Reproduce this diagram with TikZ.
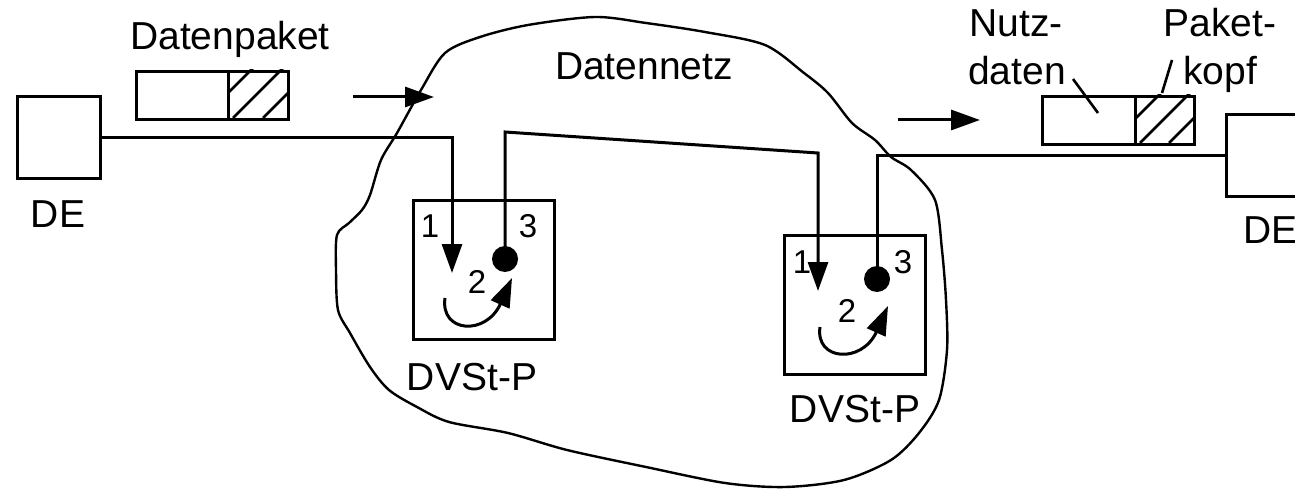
\documentclass[tikz,border=0pt]{standalone}
\usepackage{fontspec}
\setmainfont{Liberation Sans}
\usetikzlibrary{arrows.meta}
\begin{document}
\begin{tikzpicture}[x=1pt,y=-1pt,
  ln/.style={line width=3pt},
  arr/.style={ln,-{Triangle[length=29pt,width=20pt]}},
  box/.style={draw,line width=3pt,inner sep=0pt,anchor=north west},
  lbl/.style={font=\fontsize{39}{42}\selectfont,inner sep=0pt,anchor=base},
  num/.style={font=\fontsize{33}{36}\selectfont,inner sep=0pt,anchor=base},
  dotn/.style={circle,fill,inner sep=0pt,minimum size=26pt},
  hatch/.style={line width=2.6pt}]
\useasboundingbox (0,0) rectangle (1295,489);
\clip (0,0) rectangle (1295,489);

% cloud (Datennetz)
\draw[line width=2.4pt] plot[smooth cycle, tension=0.5] coordinates {
 (445,53) (480,37) (528,25) (595,17) (646,23) (705,32) (765,45) (804,73)
 (828,93) (852,123) (875,140) (891,157) (911,170) (935,200) (942,250)
 (946,300) (947,350) (939,400) (919,433) (891,460) (844,480) (785,487)
 (725,483) (646,467) (567,450) (508,433) (449,422) (417,407) (389,390)
 (370,367) (350,333) (338,310) (336,270) (337,235) (349,223) (362,210)
 (370,195) (381,160) (397,133) (421,90)};

% end devices
\node[box,minimum width=83pt,minimum height=82pt] (de1) at (16,95) {};
\node[box,minimum width=83pt,minimum height=82pt] (de2) at (1225,113) {};

% switching nodes
\node[box,minimum width=141pt,minimum height=139pt] (sw1) at (412,199) {};
\node[box,minimum width=141pt,minimum height=139pt] (sw2) at (783,234) {};

% packets
\node[box,minimum width=152pt,minimum height=48pt] (pk1) at (135,70) {};
\node[box,minimum width=152pt,minimum height=48pt] (pk2) at (1041,95) {};
\draw[ln] (228,70) -- (228,118);
\draw[ln] (1135,95) -- (1135,143);
\begin{scope}
  \clip (228,70) rectangle (287,118);
  \foreach \k in {0,1,2} \draw[hatch] ({203+\k*30},118) -- ++(60,-60);
\end{scope}
\begin{scope}
  \clip (1135,95) rectangle (1193,143);
  \foreach \k in {0,1,2} \draw[hatch] ({1111+\k*29},143) -- ++(60,-60);
\end{scope}

% dots (outputs)
\node[dotn] (dot1) at (505,259) {};
\node[dotn] (dot2) at (877,279) {};

% named points
\coordinate (in1) at (452,273);
\coordinate (in2) at (818,291);
\coordinate (b1) at (505,132);
\coordinate (b2) at (818,153);

% connections
\draw[arr] (de1.east) -| (in1);
\draw[arr] (dot1.center) -- (b1) -- (b2) -- (in2);
\draw[ln] (dot2.center) |- (de2.west);

% internal switching arrows
\coordinate (c1s) at (445,298);
\coordinate (c1e) at (512,278);
\coordinate (c2s) at (820,327);
\coordinate (c2e) at (888,306);
\draw[arr] (c1s) .. controls (440,333) and (486,336) .. (c1e);
\draw[arr] (c2s) .. controls (815,361) and (862,364) .. (c2e);

% direction arrows
\coordinate (a1s) at (353,97);
\coordinate (a1e) at (434,97);
\coordinate (a2s) at (898,120);
\coordinate (a2e) at (980,120);
\draw[arr] (a1s) -- (a1e);
\draw[arr] (a2s) -- (a2e);

% leader lines
\coordinate (l1s) at (1073,79);
\coordinate (l1e) at (1098,113);
\coordinate (l2s) at (1172,60);
\coordinate (l2e) at (1162,93);
\draw[line width=2.6pt] (l1s) -- (l1e);
\draw[line width=2.6pt] (l2s) -- (l2e);

% labels
\node[lbl] (tdp) at (230,50) {Datenpaket};
\node[lbl] (tnetz) at (644,80) {Datennetz};
\node[lbl] (tnutz) at (1016,37) {Nutz-};
\node[lbl] (tdaten) at (1017,85) {daten};
\node[lbl] (tpaket) at (1220,37) {Paket-};
\node[lbl] (tkopf) at (1220,85) {kopf};
\node[lbl] (tde1) at (58,227) {DE};
\node[lbl,anchor=base west] (tde2) at (1243,243) {DE};
\node[lbl] (tv1) at (472,390) {DVSt-P};
\node[lbl] (tv2) at (855,422) {DVSt-P};

% port numbers
\node[num] (n11) at (430,237) {1};
\node[num] (n13) at (528,237) {3};
\node[num] (n12) at (477,293) {2};
\node[num] (n21) at (802,273) {1};
\node[num] (n23) at (903,273) {3};
\node[num] (n22) at (847,322) {2};
\end{tikzpicture}
\end{document}
